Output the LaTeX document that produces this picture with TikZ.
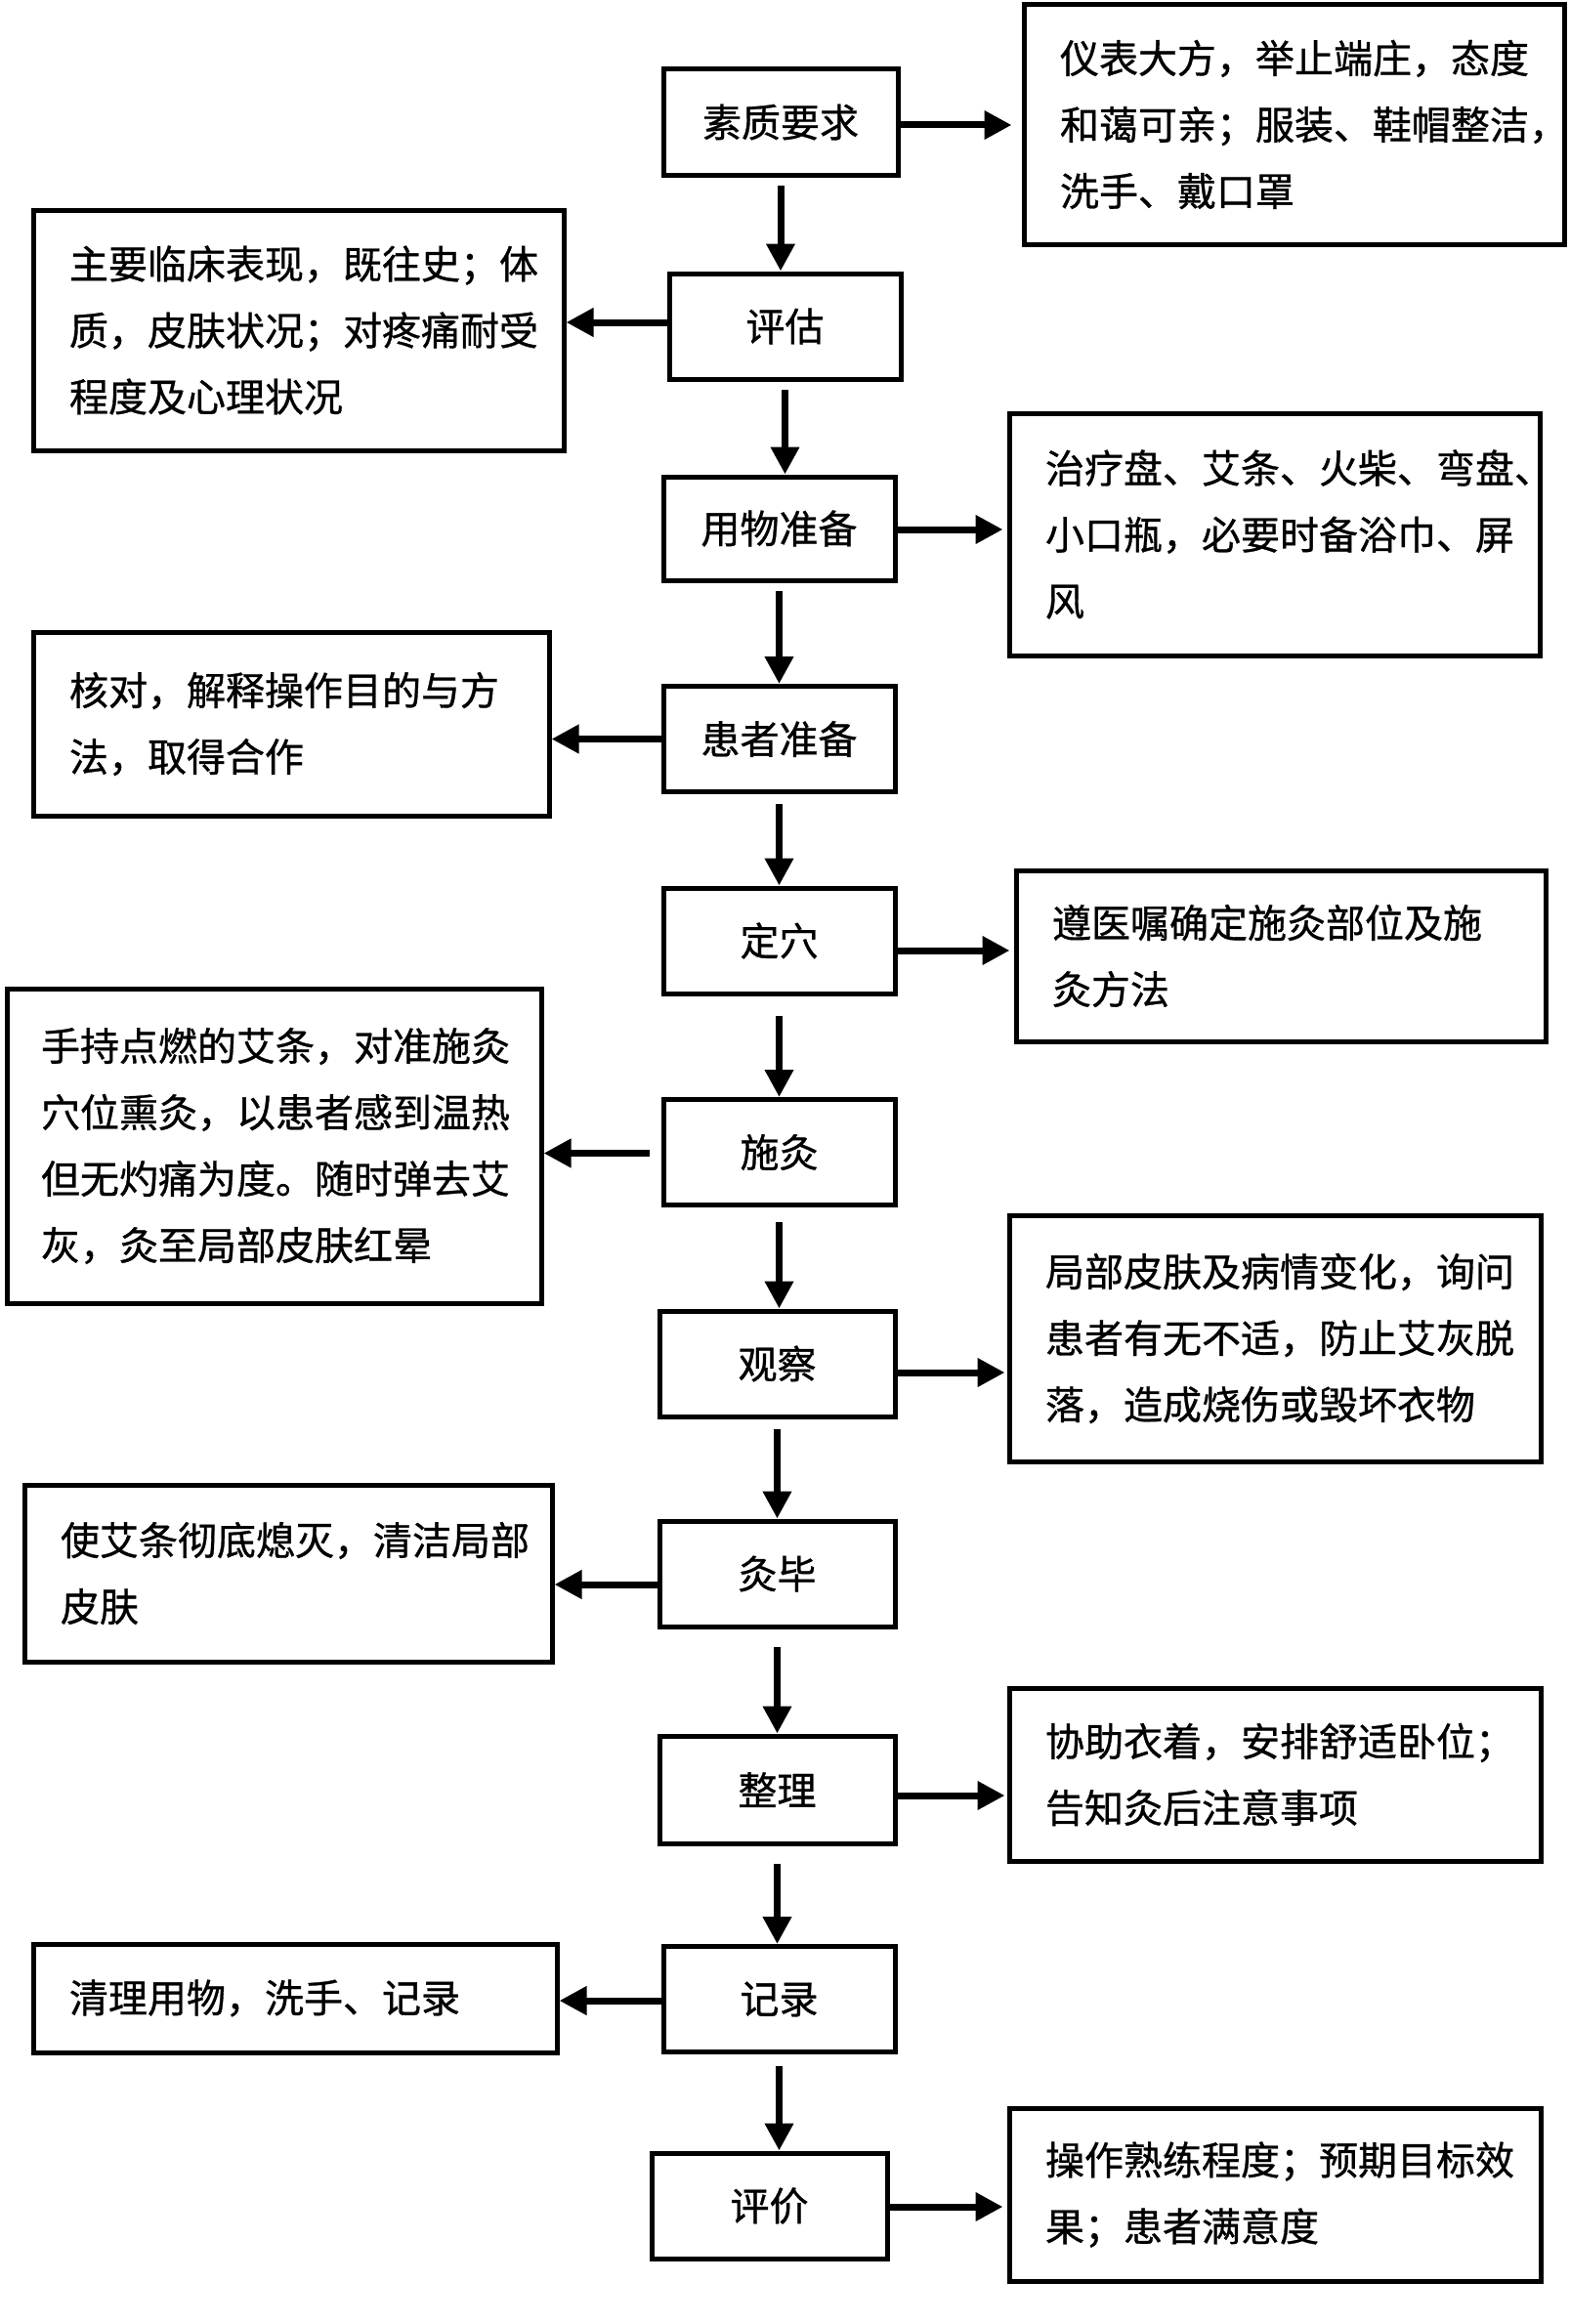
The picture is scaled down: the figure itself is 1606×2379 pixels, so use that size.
\documentclass[tikz,border=0pt]{standalone}
\usepackage{fontspec}
\newfontfamily\cjk[FakeBold=0.8]{Noto Sans CJK SC}
\usetikzlibrary{arrows.meta}
\begin{document}
\begin{tikzpicture}[x=1pt,y=-1pt,
  box/.style={draw=black, line width=5pt, inner sep=0pt,
    font=\cjk\fontsize{40}{68}\selectfont},
  cbox/.style={box, minimum width=240pt, minimum height=108pt},
  sbox/.style={box, align=left, inner xsep=37pt},
  arr/.style={line width=7pt, -{Triangle[length=28pt,width=28pt]}},
]
\useasboundingbox (0,0) rectangle (1606,2379);

% centre column
\node[cbox] (c1)  at (799,125)    {素质要求};
\node[cbox, minimum width=237pt] (c2)  at (803.5,334)  {评估};
\node[cbox, minimum width=237pt, minimum height=106pt] (c3)  at (797.5,541)  {用物准备};
\node[cbox, minimum width=237pt] (c4)  at (797.5,756.5){患者准备};
\node[cbox, minimum width=237pt] (c5)  at (797.5,963)  {定穴};
\node[cbox, minimum width=237pt] (c6)  at (797.5,1179.5){施灸};
\node[cbox, minimum width=241pt] (c7)  at (795.5,1396) {观察};
\node[cbox, minimum width=241pt] (c8)  at (795.5,1611) {灸毕};
\node[cbox, minimum width=241pt, minimum height=110pt] (c9)  at (795.5,1832) {整理};
\node[cbox, minimum width=237pt] (c10) at (797.5,2046.5){记录};
\node[cbox, minimum width=241pt] (c11) at (787.5,2258) {评价};

% side boxes
\node[sbox, minimum width=553pt, minimum height=245pt, text width=479pt] (s1) at (1324.5,127.5)
  {仪表大方，举止端庄，态度\\和蔼可亲；服装、鞋帽整洁，\\洗手、戴口罩};
\node[sbox, minimum width=543pt, minimum height=246pt, text width=469pt] (s2) at (305.5,338)
  {主要临床表现，既往史；体\\质，皮肤状况；对疼痛耐受\\程度及心理状况};
\node[sbox, minimum width=543pt, minimum height=248pt, text width=469pt] (s3) at (1304.5,547)
  {治疗盘、艾条、火柴、弯盘、\\小口瓶，必要时备浴巾、屏\\风};
\node[sbox, minimum width=528pt, minimum height=188pt, text width=454pt] (s4) at (298,741)
  {核对，解释操作目的与方\\法，取得合作};
\node[sbox, minimum width=542pt, minimum height=175pt, text width=468pt] (s5) at (1311,978.5)
  {遵医嘱确定施灸部位及施\\灸方法};
\node[sbox, minimum width=547pt, minimum height=322pt, text width=477pt, inner xsep=35pt] (s6) at (280.5,1173)
  {手持点燃的艾条，对准施灸\\穴位熏灸，以患者感到温热\\但无灼痛为度。随时弹去艾\\灰，灸至局部皮肤红晕};
\node[sbox, minimum width=544pt, minimum height=252pt, text width=470pt] (s7) at (1305,1370)
  {局部皮肤及病情变化，询问\\患者有无不适，防止艾灰脱\\落，造成烧伤或毁坏衣物};
\node[sbox, minimum width=540pt, minimum height=181pt, text width=466pt] (s8) at (295,1610.5)
  {使艾条彻底熄灭，清洁局部\\皮肤};
\node[sbox, minimum width=544pt, minimum height=177pt, text width=470pt] (s9) at (1305,1816.5)
  {协助衣着，安排舒适卧位；\\告知灸后注意事项};
\node[sbox, minimum width=536pt, minimum height=111pt, text width=462pt] (s10) at (302,2045.5)
  {清理用物，洗手、记录};
\node[sbox, minimum width=544pt, minimum height=177pt, text width=470pt] (s11) at (1305,2246.5)
  {操作熟练程度；预期目标效\\果；患者满意度};

% vertical arrows
\draw[arr, shorten <=8pt]  (c1.south)  -- (c1.south |- c2.north);
\draw[arr, shorten <=8pt]  (c2.south)  -- (c2.south |- c3.north);
\draw[arr, shorten <=8pt]  (c3.south)  -- (c3.south |- c4.north);
\draw[arr, shorten <=10pt] (c4.south)  -- (c4.south |- c5.north);
\draw[arr, shorten <=20pt] (c5.south)  -- (c5.south |- c6.north);
\draw[arr, shorten <=15pt] (c6.south)  -- (c6.south |- c7.north);
\draw[arr, shorten <=10pt] (c7.south)  -- (c7.south |- c8.north);
\draw[arr, shorten <=18pt] (c8.south)  -- (c8.south |- c9.north);
\draw[arr, shorten <=18pt] (c9.south)  -- (c9.south |- c10.north);
\draw[arr, shorten <=12pt] (c10.south) -- (c10.south |- c11.north);

% horizontal arrows
\draw[arr, shorten >=10pt] ([yshift=-3pt]c1.east)   -- ([yshift=-3pt]c1.east -| s1.west);
\draw[arr]                 ([yshift=4pt]c2.west)    -- ([yshift=4pt]c2.west -| s2.east);
\draw[arr, shorten >=4pt]  ([yshift=-1pt]c3.east)   -- ([yshift=-1pt]c3.east -| s3.west);
\draw[arr]                 (c4.west)                -- (c4.west -| s4.east);
\draw[arr, shorten >=4pt]  ([yshift=-10pt]c5.east)  -- ([yshift=-10pt]c5.east -| s5.west);
\draw[arr, shorten <=12pt] ([yshift=-1pt]c6.west)   -- ([yshift=-1pt]c6.west -| s6.east);
\draw[arr, shorten >=2pt]  ([yshift=-9pt]c7.east)   -- ([yshift=-9pt]c7.east -| s7.west);
\draw[arr]                 ([yshift=-11pt]c8.west)  -- ([yshift=-11pt]c8.west -| s8.east);
\draw[arr, shorten >=2pt]  ([yshift=-6pt]c9.east)   -- ([yshift=-6pt]c9.east -| s9.west);
\draw[arr]                 ([yshift=-1.5pt]c10.west)-- ([yshift=-1.5pt]c10.west -| s10.east);
\draw[arr, shorten >=4pt]  ([yshift=-1pt]c11.east)  -- ([yshift=-1pt]c11.east -| s11.west);
\end{tikzpicture}
\end{document}
